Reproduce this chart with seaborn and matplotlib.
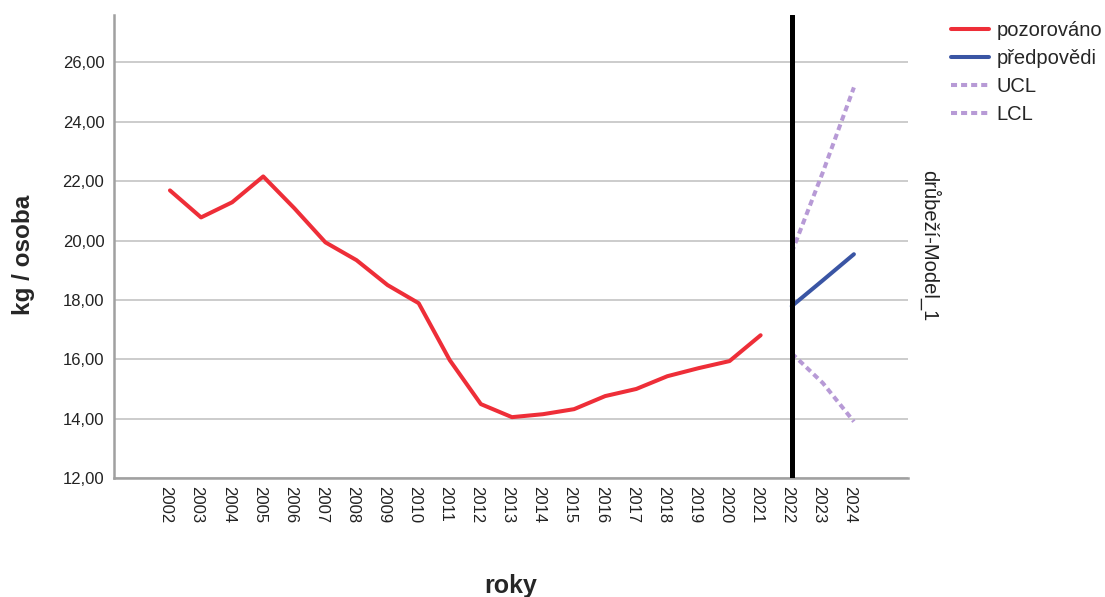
import matplotlib
matplotlib.use("Agg")
import matplotlib.pyplot as plt
import matplotlib.transforms as mtransforms
import seaborn as sns
import pandas as pd
from matplotlib.ticker import FuncFormatter
from matplotlib.lines import Line2D

years_obs = list(range(2002, 2022))
observed = [21.69, 20.78, 21.29, 22.16, 21.09, 19.94, 19.34, 18.50, 17.89, 15.97,
            14.49, 14.05, 14.15, 14.32, 14.76, 15.00, 15.43, 15.70, 15.94, 16.81]
years_fc = [2022, 2023, 2024]
forecast = [17.79, 18.66, 19.54]
ucl = [19.60, 22.30, 25.16]
lcl = [16.20, 15.20, 13.90]
all_years = list(range(2002, 2025))
yticks = [12, 14, 16, 18, 20, 22, 24, 26]

series_names = ["pozorováno", "předpovědi", "UCL", "LCL"]
colors = {"pozorováno": "#EE2E38", "předpovědi": "#3A55A4",
          "UCL": "#B79AD6", "LCL": "#B79AD6"}
dashes = {"pozorováno": "", "předpovědi": "", "UCL": (1.5, 1.0), "LCL": (1.5, 1.0)}

rows = []
for y, v in zip(years_obs, observed):
    rows.append((y, v, "pozorováno"))
for y, v in zip(years_fc, forecast):
    rows.append((y, v, "předpovědi"))
for y, v in zip(years_fc, ucl):
    rows.append((y, v, "UCL"))
for y, v in zip(years_fc, lcl):
    rows.append((y, v, "LCL"))
df = pd.DataFrame(rows, columns=["rok", "hodnota", "řada"])

sns.set_style("white")
plt.rcParams["font.family"] = ["Liberation Sans", "DejaVu Sans"]

fig = plt.figure(figsize=(11.05, 5.97), dpi=100)
ax = fig.add_axes([114 / 1105, 1 - 478 / 597, (908 - 114) / 1105, (478 - 15) / 597])

sns.lineplot(data=df, x="rok", y="hodnota", hue="řada", style="řada",
             hue_order=series_names, style_order=series_names,
             palette=colors, dashes=dashes, linewidth=2.9, ax=ax, legend=False)

ax.axvline(2022, color="black", linewidth=3.6, zorder=5)

ax.set_xlim(2000.2, 2025.74)
ax.set_ylim(12, 27.6)
ax.set_yticks(yticks)
ax.yaxis.set_major_formatter(FuncFormatter(lambda v, p: f"{v:.2f}".replace(".", ",")))
ax.set_xticks(all_years)
ax.set_xticklabels([str(y) for y in all_years], rotation=-90)
ax.tick_params(axis="y", length=0, pad=7, labelsize=12, labelcolor="#222222")
ax.tick_params(axis="x", length=0, pad=6, labelsize=12, labelcolor="#222222")
offset = mtransforms.ScaledTranslation(-4 / 100, 0, fig.dpi_scale_trans)
for lbl in ax.get_xticklabels():
    lbl.set_transform(lbl.get_transform() + offset)

ax.grid(axis="y", color="#C8C8C8", linewidth=1.3)
ax.grid(axis="x", visible=False)
ax.set_axisbelow(True)
for s in ["top", "right"]:
    ax.spines[s].set_visible(False)
for s in ["left", "bottom"]:
    ax.spines[s].set_color("#A0A0A0")
    ax.spines[s].set_linewidth(1.8)

ax.set_xlabel("roky", fontsize=18, fontweight="bold")
ax.xaxis.set_label_coords((511 - 114) / 794, (478 - 574) / 463)
ax.set_ylabel("kg / osoba", fontsize=17.5, fontweight="bold")
ax.yaxis.set_label_coords((35 - 114) / 794, (478 - 255) / 463)

fig.text(930 / 1105, 1 - 246 / 597, "drůbeží-Model_1", rotation=-90,
         ha="center", va="center", fontsize=14.5, color="#222222")

handles = [Line2D([0], [0], color=colors[n], linewidth=2.9,
                  linestyle=(0, dashes[n]) if dashes[n] else "-") for n in series_names]
fig.legend(handles, series_names, loc="upper left",
           bbox_to_anchor=(951 / 1105, 1 - 21 / 597), frameon=False,
           fontsize=14.5, handlelength=1.9, handletextpad=0.35,
           labelspacing=0.44, borderpad=0, borderaxespad=0)

fig.savefig("out.png", dpi=100)
